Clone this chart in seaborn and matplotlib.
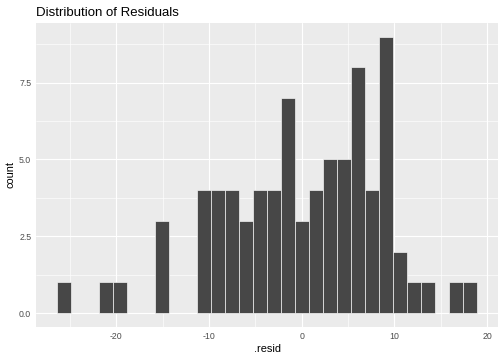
import matplotlib
matplotlib.use('Agg')
import matplotlib.pyplot as plt
import numpy as np
import pandas as pd
import seaborn as sns
from matplotlib.ticker import MultipleLocator

# histogram of residuals: 30 bins
bin_start = -26.40
bin_width = 1.511
counts = [1, 0, 0, 1, 1, 0, 0, 3, 0, 0,
          4, 4, 4, 3, 4, 4, 7, 3, 4, 5,
          5, 8, 4, 9, 2, 1, 1, 0, 1, 1]
x_ticks = [-20, -10, 0, 10, 20]
y_ticks = [0.0, 2.5, 5.0, 7.5]

edges = bin_start + bin_width * np.arange(len(counts) + 1)
centers = (edges[:-1] + edges[1:]) / 2
df = pd.DataFrame({'resid': centers, 'n': counts})

sns.set_theme(style='darkgrid')
plt.rcParams['font.family'] = ['Liberation Sans', 'DejaVu Sans']
plt.rcParams['axes.unicode_minus'] = False

fig = plt.figure(figsize=(7, 5), dpi=72)
ax = fig.add_axes([0.0714, 0.092, 0.917, 0.845])
ax.set_facecolor('#EBEBEB')

sns.histplot(data=df, x='resid', weights='n', binwidth=bin_width,
             binrange=(float(edges[0]), float(edges[-1])), ax=ax,
             color='#474747', edgecolor='white', linewidth=0.6, alpha=1)

span = edges[-1] - edges[0]
ax.set_xlim(edges[0] - 0.05 * span, edges[-1] + 0.05 * span)
ax.set_ylim(-0.45, 9.45)
ax.set_xticks(x_ticks)
ax.set_yticks(y_ticks)
ax.set_yticklabels(['0.0', '2.5', '5.0', '7.5'])
ax.xaxis.set_minor_locator(MultipleLocator(5))
ax.yaxis.set_minor_locator(MultipleLocator(1.25))
ax.set_axisbelow(True)
ax.grid(True, which='major', color='white', linewidth=1.1)
ax.grid(True, which='minor', color='white', linewidth=0.6)
for s in ax.spines.values():
    s.set_visible(False)
ax.tick_params(which='major', length=2.75, width=0.8, color='#333333',
               labelsize=8.8, labelcolor='#4D4D4D', pad=2)
ax.tick_params(which='minor', length=0)

ax.set_xlabel('.resid', fontsize=11, color='black', labelpad=3)
ax.set_ylabel('count', fontsize=11, color='black', labelpad=4)
ax.set_title('Distribution of Residuals', loc='left', fontsize=13.2,
             color='black', pad=7)

fig.savefig('out.png', dpi=72)
